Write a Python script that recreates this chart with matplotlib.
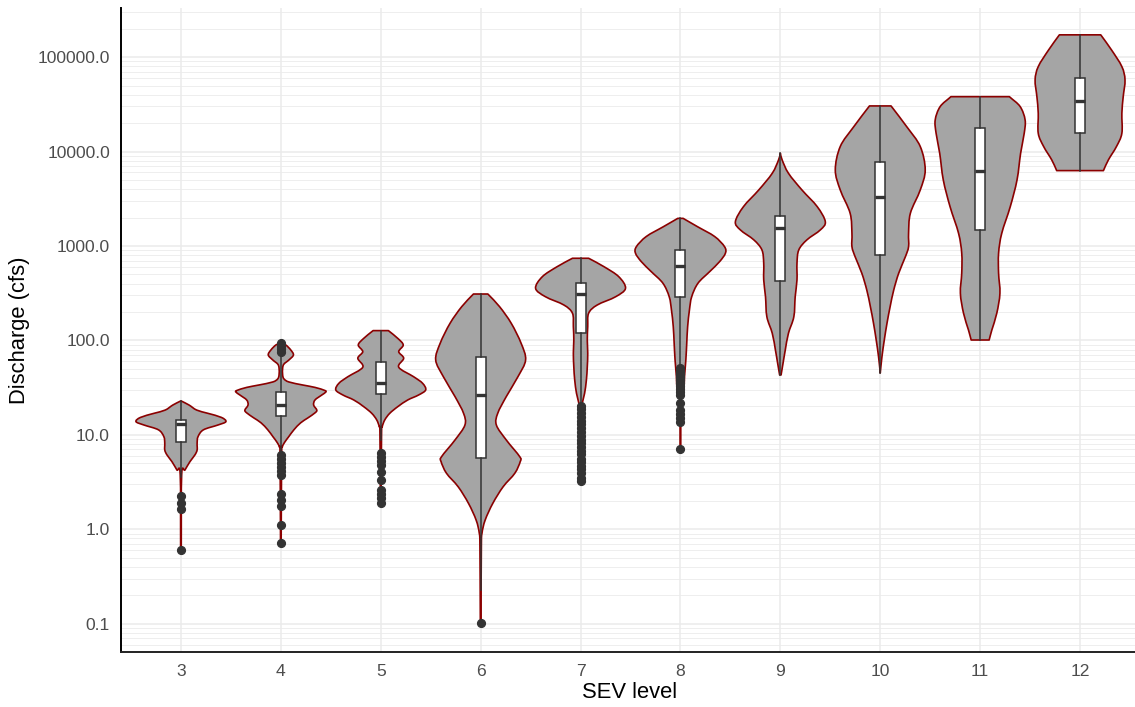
import matplotlib
matplotlib.use("Agg")
import math
import matplotlib.pyplot as plt
from matplotlib.path import Path
from matplotlib.patches import PathPatch
from matplotlib.ticker import FixedLocator, FixedFormatter, LogLocator, NullFormatter

plt.rcParams['font.family'] = ['Liberation Sans', 'DejaVu Sans']

# ---------------- data ----------------
sev_levels = [3, 4, 5, 6, 7, 8, 9, 10, 11, 12]

# violin outlines: discharge levels (cfs) and relative half-width (1 = widest)
v3_q = [22.9, 20.7, 18.3, 16.9, 15.3, 13.8, 12.7, 11.3, 9.57, 8.15, 6.92, 6.12, 5.20, 4.25, 3.76, 0.604]
v3_w = [0, .18, .35, .6, .9, 1.0, .82, .5, .38, .36, .36, .31, .2, .09, .016, .007]

v4_q = [94.0, 89.5, 79.3, 70.1, 62.1, 56.2, 51.1, 43.1, 39.1, 36.3, 33.7, 31.8, 29.5, 28.4, 26.4,
        23.4, 20.7, 18.3, 17.1, 15.1, 13.4, 11.3, 9.48, 8.41, 7.45, 6.12, 0.711]
v4_w = [0, .11, .22, .28, .18, .07, .04, .04, .07, .18, .49, .76, .98, 1.0, .91,
        .76, .73, .8, .76, .6, .44, .29, .17, .09, .033, .018, .007]

v5_q = [127, 105, 89.5, 76.0, 64.7, 52.0, 41.3, 35.2, 29.9, 26.4, 23.4, 19.9, 16.9, 14.4, 12.2, 10.4, 1.88]
v5_w = [.17, .38, .5, .4, .51, .4, .73, .93, 1.0, .84, .6, .38, .2, .09, .033, .018, .007]

v6_q = [310, 228, 152, 93.3, 62.1, 41.3, 25.4, 16.9, 12.7, 8.83, 5.87, 5.20, 3.92, 2.82, 1.88,
        1.25, 0.908, 0.655, 0.101]
v6_w = [.16, .42, .68, .9, 1.0, .83, .57, .38, .35, .57, .87, .88, .76, .5, .27,
        .1, .03, .016, .007]

v7_q = [741, 604, 473, 356, 290, 237, 194, 140, 101, 73.1, 52.7, 38.1, 27.5, 21.6, 16.9, 3.24]
v7_w = [.18, .52, .85, 1.0, .78, .37, .18, .16, .15, .16, .15, .13, .09, .038, .016, .007]

v8_q = [1960, 1600, 1260, 984, 838, 682, 535, 403, 290, 210, 140, 93.3, 62.1, 41.3, 29.9, 23.4, 7.03]
v8_w = [.06, .38, .76, .98, 1.0, .87, .65, .39, .25, .2, .16, .14, .12, .09, .074, .016, .007]

v9_q = [9590, 8150, 5890, 3920, 2610, 1810, 1480, 1160, 908, 656, 437, 290, 178, 119, 79.3, 57.3, 43.1]
v9_w = [0, .04, .18, .48, .82, 1.0, .89, .59, .41, .37, .37, .33, .3, .18, .11, .06, .016]

v10_q = [30400, 18300, 11300, 6380, 3920, 2220, 1360, 984, 771, 514, 342, 228, 152, 101, 67.3, 45.2]
v10_w = [.24, .59, .89, 1.0, .89, .67, .63, .63, .56, .41, .3, .22, .15, .09, .038, 0]

v11_q = [38100, 29900, 21600, 15600, 9590, 5000, 2610, 1360, 838, 514, 316, 194, 129, 101]
v11_w = [.65, .89, 1.0, .98, .9, .82, .67, .48, .41, .41, .44, .37, .26, .2]

v12_q = [172000, 119000, 79300, 57300, 38100, 25400, 15600, 11300, 8150, 6280]
v12_w = [.46, .7, .93, 1.0, .96, .93, .93, .81, .63, .52]

# boxplot statistics (cfs)
box_q1 = [8.3, 15.8, 27.1, 5.65, 121, 290, 426, 804, 1480, 15600]
box_med = [12.9, 20.7, 35.7, 26.4, 308, 618, 1540, 3280, 6170, 34600]
box_q3 = [14.4, 28.7, 59.6, 66.2, 409, 908, 2080, 7820, 17900, 60600]
whisker_lo = [3.58, 6.61, 8.9, 0.23, 21.7, 53.7, 43.1, 45.2, 101, 6280]
whisker_hi = [22.9, 67.0, 127, 310, 741, 1960, 9590, 30400, 38100, 172000]

# outliers (cfs)
out3 = [2.27, 1.92, 1.63, 0.604]
out4 = [94.0, 87.3, 81.1, 75.3, 6.12, 5.56, 5.04, 4.57, 4.14, 3.76, 2.37, 2.04, 1.77, 1.11, 0.711]
out5 = [6.43, 5.83, 5.28, 4.80, 4.05, 3.33, 2.61, 2.37, 2.14, 1.88]
out6 = [0.101]
out7 = [20.4, 18.6, 17.0, 15.5, 14.1, 12.9, 11.7, 10.7, 9.8, 8.9, 8.1, 7.4, 6.8, 6.2, 5.6,
        5.1, 4.7, 4.3, 3.9, 3.5, 3.24]
out8 = [51.1, 47.4, 44.2, 41.0, 38.1, 35.4, 33.0, 30.6, 28.4, 26.4, 21.7, 18.3, 16.6, 15.1, 13.8, 7.03]
out9, out10, out11, out12 = [], [], [], []

y_ticks = [0.1, 1, 10, 100, 1000, 10000, 100000]
y_ticklabels = ['0.1', '1.0', '10.0', '100.0', '1000.0', '10000.0', '100000.0']

# ---------------- drawing ----------------
violins_q = [v3_q, v4_q, v5_q, v6_q, v7_q, v8_q, v9_q, v10_q, v11_q, v12_q]
violins_w = [v3_w, v4_w, v5_w, v6_w, v7_w, v8_w, v9_w, v10_w, v11_w, v12_w]
outliers = [out3, out4, out5, out6, out7, out8, out9, out10, out11, out12]


def smooth_side(xs, qs):
    """Cubic Bezier segments (Catmull-Rom tangents in x / log10(q) space) through every read point."""
    ls = [math.log10(v) for v in qs]
    n = len(xs)
    tx, tl = [], []
    for i in range(n):
        a = max(i - 1, 0)
        b = min(i + 1, n - 1)
        f = 0.5 if (a != i and b != i) else 1.0
        tx.append((xs[b] - xs[a]) * f)
        tl.append((ls[b] - ls[a]) * f)
    verts, codes = [], []
    for i in range(n - 1):
        c1 = (xs[i] + tx[i] / 3, 10 ** (ls[i] + tl[i] / 3))
        c2 = (xs[i + 1] - tx[i + 1] / 3, 10 ** (ls[i + 1] - tl[i + 1] / 3))
        verts += [c1, c2, (xs[i + 1], qs[i + 1])]
        codes += [Path.CURVE4] * 3
    return verts, codes


W, H = 1135, 707
fig = plt.figure(figsize=(W / 100, H / 100), dpi=100)
ax = fig.add_axes([121 / W, 1 - 652 / H, 1019 / W, 644 / H])

half = 0.45
for pos, q, w in zip(sev_levels, violins_q, violins_w):
    left = [pos - half * v for v in w]
    right = [pos + half * v for v in w]
    verts = [(left[0], q[0])]
    codes = [Path.MOVETO]
    v, c = smooth_side(left, q)
    verts += v
    codes += c
    verts.append((right[-1], q[-1]))
    codes.append(Path.LINETO)
    v, c = smooth_side(right[::-1], q[::-1])
    verts += v
    codes += c
    verts.append((left[0], q[0]))
    codes.append(Path.CLOSEPOLY)
    ax.add_patch(PathPatch(Path(verts, codes), facecolor='#A5A5A5', edgecolor='#8B0000',
                           linewidth=1.2, zorder=2, joinstyle='round'))

stats = []
for i, pos in enumerate(sev_levels):
    stats.append(dict(med=box_med[i], q1=box_q1[i], q3=box_q3[i],
                      whislo=whisker_lo[i], whishi=whisker_hi[i],
                      fliers=outliers[i], label=str(pos)))

bp = ax.bxp(stats, positions=sev_levels, widths=0.1, patch_artist=True, showcaps=False,
            boxprops=dict(facecolor='white', edgecolor='#333333', linewidth=1.1),
            medianprops=dict(color='#333333', linewidth=2.4, solid_capstyle='butt'),
            whiskerprops=dict(color='#333333', linewidth=1.1),
            flierprops=dict(marker='o', markerfacecolor='#333333', markeredgecolor='#333333',
                            markersize=5.6, linestyle='none'))
for key in bp:
    for art in bp[key]:
        art.set_zorder(3)
for art in bp['fliers']:
    art.set_zorder(4)

ax.set_yscale('log')
ax.set_ylim(0.0502, 331000)
ax.set_xlim(2.4, 12.6)

ax.yaxis.set_major_locator(FixedLocator(y_ticks))
ax.yaxis.set_major_formatter(FixedFormatter(y_ticklabels))
ax.yaxis.set_minor_locator(LogLocator(base=10, subs=[2, 3, 4, 5, 6, 7, 8, 9], numticks=30))
ax.yaxis.set_minor_formatter(NullFormatter())
ax.set_xticks(sev_levels)
ax.set_xticklabels([str(s) for s in sev_levels])

ax.set_axisbelow(True)
ax.grid(which='major', axis='both', color='#EBEBEB', linewidth=1.1)
ax.grid(which='minor', axis='y', color='#EBEBEB', linewidth=0.6)

for s in ['top', 'right']:
    ax.spines[s].set_visible(False)
ax.spines['left'].set_color('black')
ax.spines['left'].set_linewidth(1.4)
ax.spines['bottom'].set_color('#222222')
ax.spines['bottom'].set_linewidth(1.4)

ax.tick_params(axis='both', which='both', length=0, labelsize=12.6, labelcolor='#4D4D4D')
ax.tick_params(axis='y', pad=8)
ax.tick_params(axis='x', pad=9)

fig.text(20 / W, 1 - 330 / H, 'Discharge (cfs)', rotation=90, ha='center', va='center',
         fontsize=15.8, color='black')
fig.text(630 / W, 1 - 693 / H, 'SEV level', ha='center', va='center',
         fontsize=15.8, color='black')

fig.savefig('out.png', dpi=100)
